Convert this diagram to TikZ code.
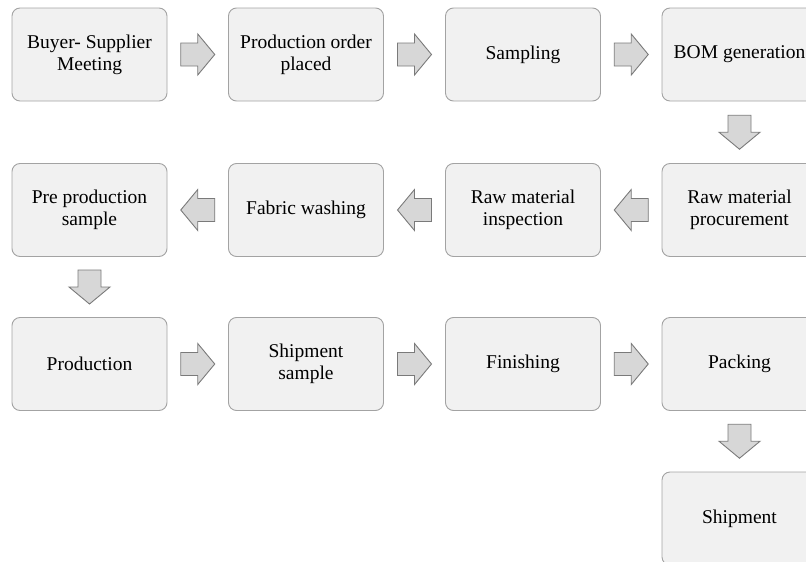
\documentclass[tikz,border=0pt]{standalone}
\usepackage{fontspec}
\setmainfont{Liberation Serif}
\usetikzlibrary{calc}

\definecolor{boxfill}{HTML}{F1F1F1}
\definecolor{boxline}{HTML}{A3A3A3}
\definecolor{arrfill}{HTML}{D7D7D7}
\definecolor{arrline}{HTML}{7A7A7A}

\tikzset{
    stage/.style={draw=boxline, fill=boxfill, rounded corners=8pt, line width=0.9pt,
        minimum width=155pt, minimum height=93pt, align=center,
        font=\fontsize{19.5}{22}\selectfont},
    blockarr/.style={draw=arrline, fill=arrfill, line width=0.9pt}
}

% block arrow half way between two stages
\newcommand{\flowarr}[3]{%
    \path ($(#1)!0.5!(#2)$) coordinate (m);
    \draw[blockarr, shift={(m)}, rotate=#3](-17,-11.5)--(0,-11.5)--(0,-20.5)--(17,0)--(0,20.5)--(0,11.5)--(-17,11.5)--cycle;
}

\begin{document}
\begin{tikzpicture}[x=1pt, y=-1pt]
    \useasboundingbox (0,0) rectangle (806,562);
    \clip (0,0) rectangle (806,562);

    \node[stage] (meet) at (89.5,54.5) {Buyer- Supplier\\Meeting};
    \node[stage] (order) at (306,54.5) {Production order\\placed};
    \node[stage] (samp) at (523,54.5) {Sampling};
    \node[stage] (bom) at (739.5,54.5) {BOM generation};

    \node[stage] (pre) at (89.5,210) {Pre production\\sample};
    \node[stage] (wash) at (306,210) {Fabric washing};
    \node[stage] (insp) at (523,210) {Raw material\\inspection};
    \node[stage] (proc) at (739.5,210) {Raw material\\procurement};

    \node[stage] (prod) at (89.5,364) {Production};
    \node[stage] (shsamp) at (306,364) {Shipment\\sample};
    \node[stage] (fin) at (523,364) {Finishing};
    \node[stage] (pack) at (739.5,364) {Packing};

    \node[stage] (ship) at (739.5,518.5) {Shipment};

    \flowarr{meet}{order}{0}
    \flowarr{order}{samp}{0}
    \flowarr{samp}{bom}{0}
    \flowarr{bom}{proc}{-90}
    \flowarr{proc}{insp}{180}
    \flowarr{insp}{wash}{180}
    \flowarr{wash}{pre}{180}
    \flowarr{pre}{prod}{-90}
    \flowarr{prod}{shsamp}{0}
    \flowarr{shsamp}{fin}{0}
    \flowarr{fin}{pack}{0}
    \flowarr{pack}{ship}{-90}
\end{tikzpicture}
\end{document}
